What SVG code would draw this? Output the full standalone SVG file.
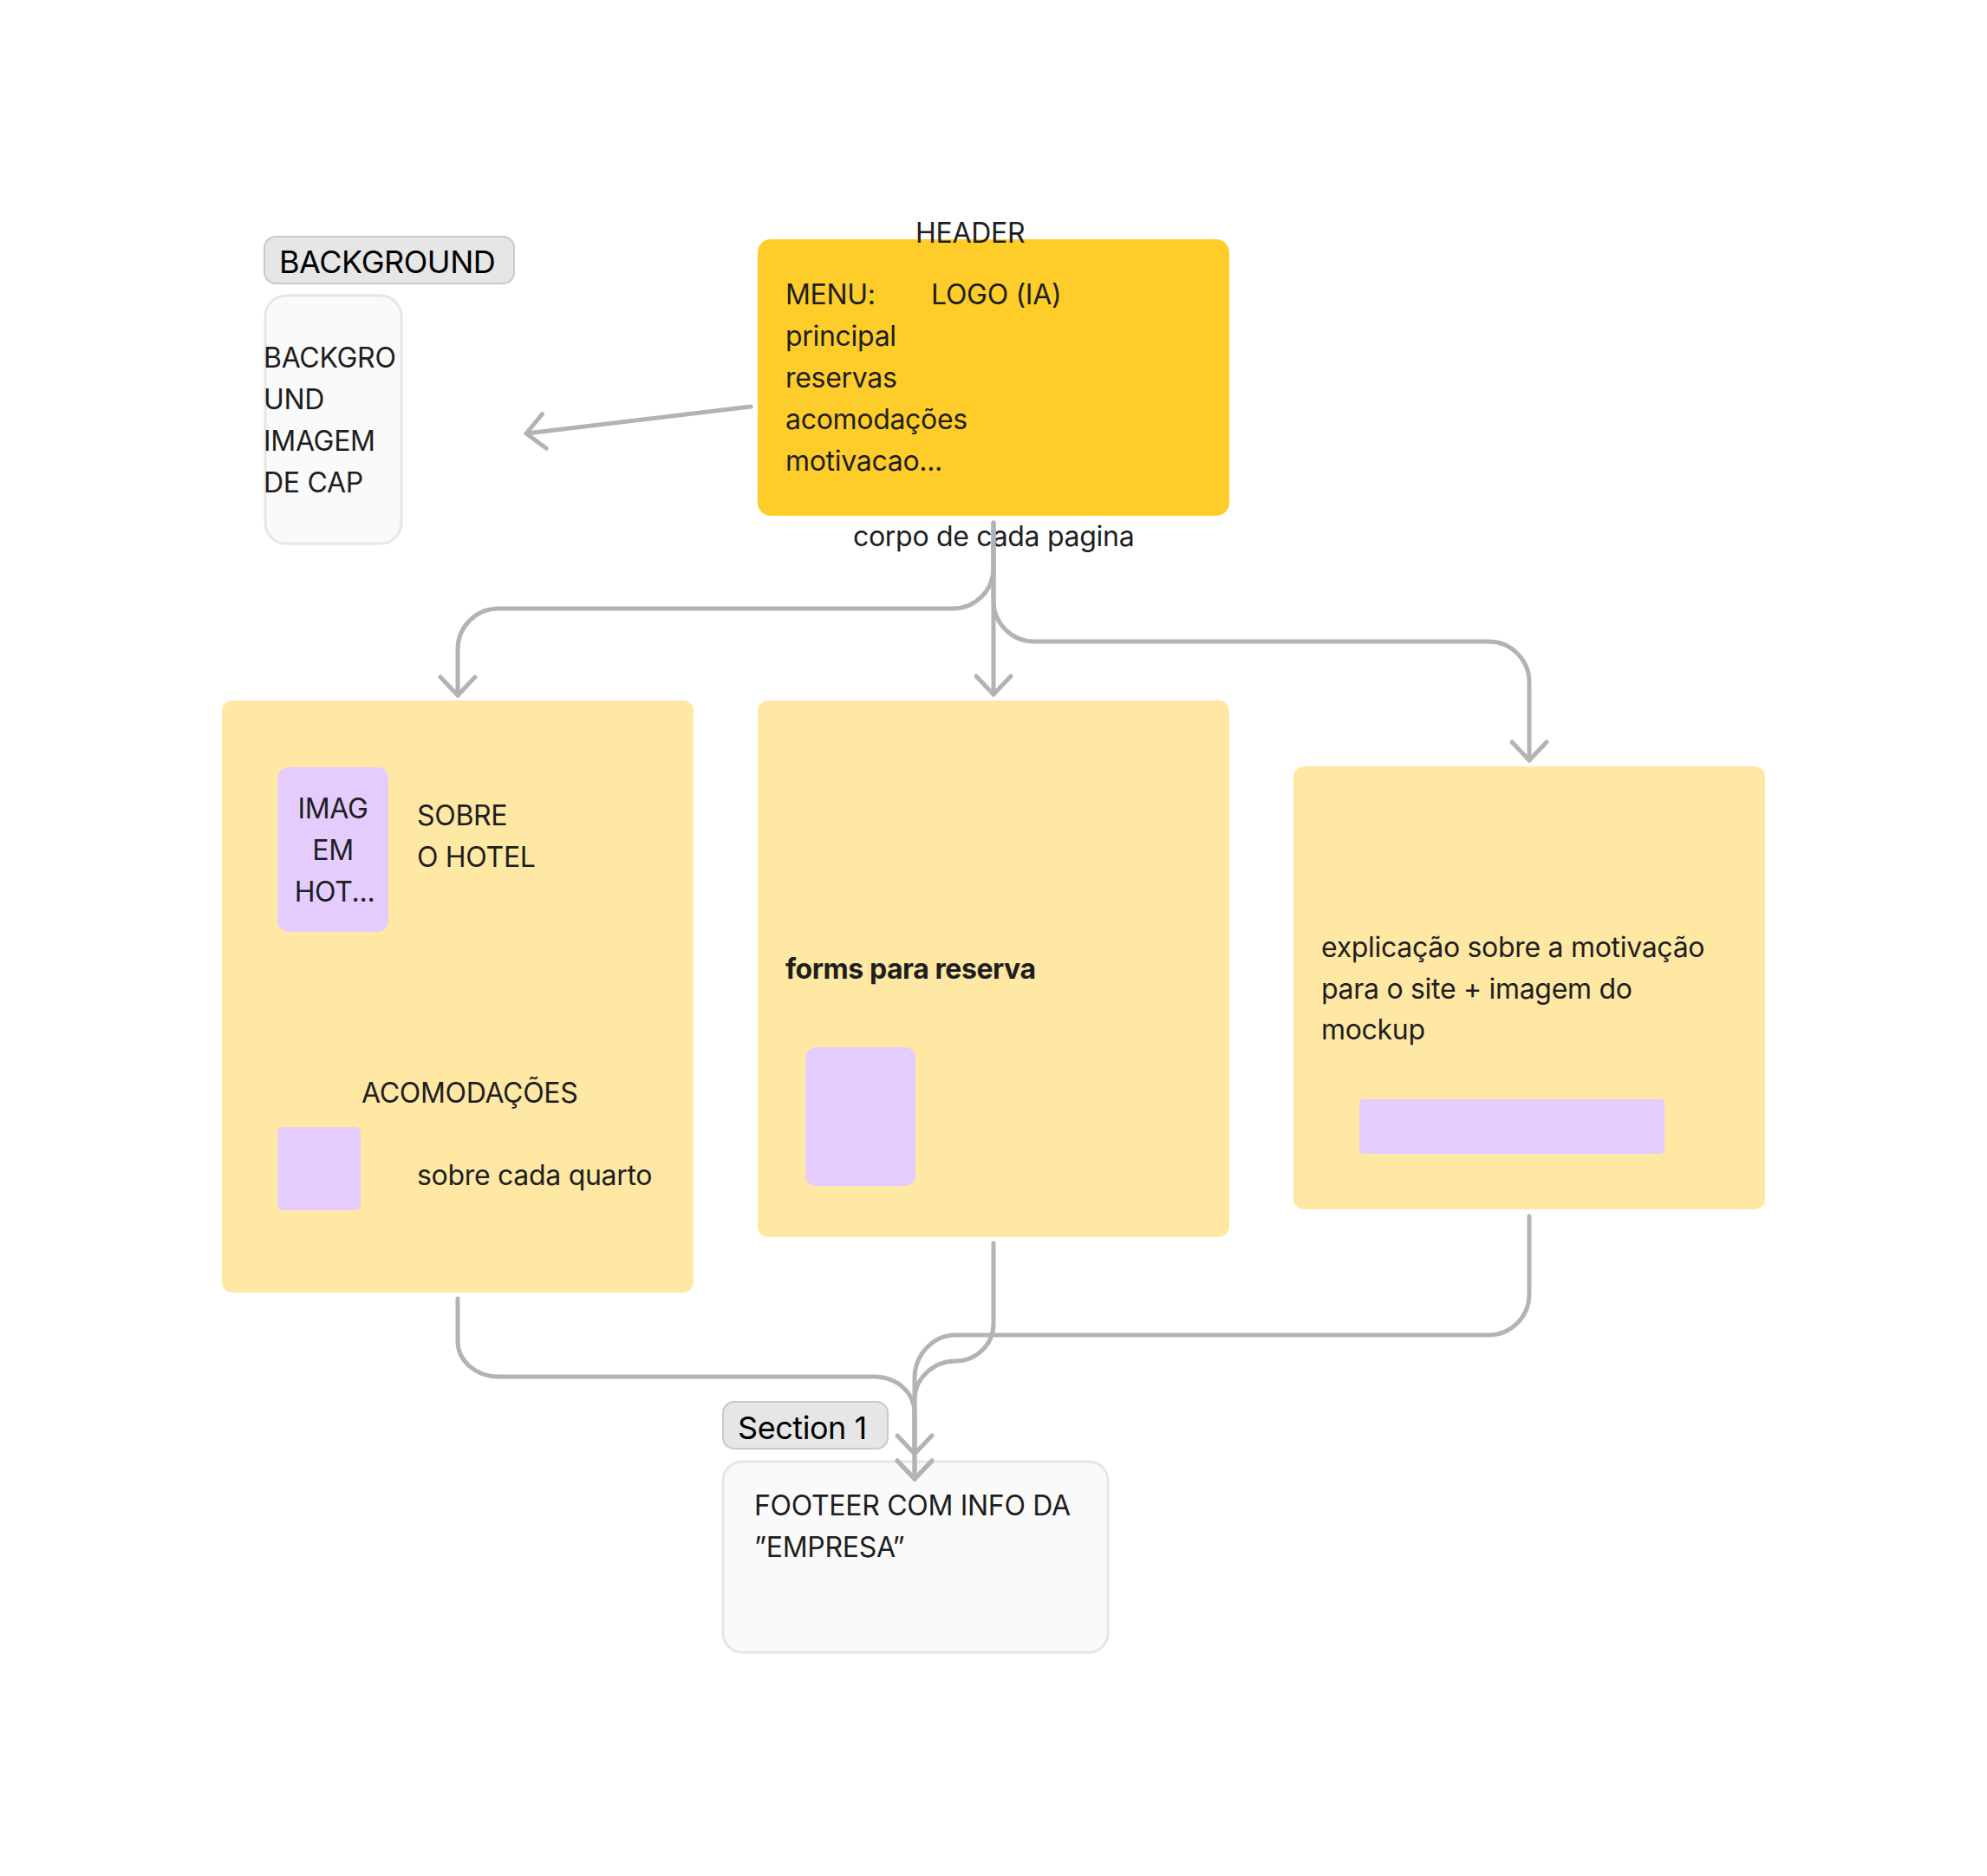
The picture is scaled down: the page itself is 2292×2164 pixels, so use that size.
<svg xmlns="http://www.w3.org/2000/svg" width="2292" height="2164" viewBox="0 0 2292 2164">
<style>
text{font-family:Inter,"Liberation Sans",sans-serif;font-size:32px;fill:#1e1e1e;letter-spacing:-0.3px}
.tag{fill:#e6e6e6;stroke:#c9c9c9;stroke-width:2}
.tagt{font-size:36px;fill:#000;letter-spacing:-0.45px}
.sec{fill:#fafafa;stroke:#e6e6e6;stroke-width:3}
.sticky{fill:#ffe8a3}
.hdr{fill:#ffcd29}
.img{fill:#e4ccff}
.con{fill:none;stroke:#b3b3b3;stroke-width:5;stroke-linecap:round;stroke-linejoin:round}
.b{font-weight:700;letter-spacing:-0.45px}
</style>
<defs>
<marker id="arr" markerUnits="userSpaceOnUse" markerWidth="60" markerHeight="60" viewBox="-30 -30 60 60" refX="0" refY="0" orient="auto" overflow="visible">
<path d="M-21,-20 L0,0 L-21,20" fill="none" stroke="#b3b3b3" stroke-width="5" stroke-linecap="round" stroke-linejoin="round"/>
</marker>
</defs>
<rect width="2292" height="2164" fill="#ffffff"/>

<g id="background-section">
<rect class="tag" x="305" y="273" width="288" height="54" rx="13"/>
<text class="tagt" x="322" y="315">BACKGROUND</text>
<rect class="sec" x="306" y="341" width="157" height="286" rx="24"/>
<text x="304" y="424">BACKGRO</text>
<text x="304" y="472">UND</text>
<text x="304" y="520">IMAGEM</text>
<text x="304" y="568">DE CAP</text>
</g>

<g id="header">
<rect class="hdr" x="874" y="276" width="544" height="319" rx="15"/>
<text x="1056" y="280">HEADER</text>
<text x="906" y="351">MENU:</text>
<text x="1074" y="351">LOGO (IA)</text>
<text x="906" y="399">principal</text>
<text x="906" y="447">reservas</text>
<text x="906" y="495">acomodações</text>
<text x="906" y="543">motivacao...</text>
</g>

<g id="corpo-label">
<text x="984" y="630">corpo de cada pagina</text>
</g>

<g id="sobre-hotel">
<rect class="sticky" x="256" y="808" width="544" height="683" rx="12"/>
<rect class="img" x="320" y="885" width="128" height="190" rx="13"/>
<text x="384" y="944" text-anchor="middle">IMAG</text>
<text x="384" y="992" text-anchor="middle">EM</text>
<text x="386" y="1040" text-anchor="middle">HOT...</text>
<text x="481" y="952">SOBRE</text>
<text x="481" y="1000">O HOTEL</text>
<text x="417" y="1272">ACOMODAÇÕES</text>
<rect class="img" x="320" y="1300" width="96" height="96" rx="6"/>
<text x="481" y="1367">sobre cada quarto</text>
</g>

<g id="forms">
<rect class="sticky" x="874" y="808" width="544" height="619" rx="12"/>
<text class="b" x="906" y="1129">forms para reserva</text>
<rect class="img" x="929" y="1208" width="127" height="160" rx="12"/>
</g>

<g id="motivacao">
<rect class="sticky" x="1492" y="884" width="544" height="511" rx="12"/>
<text x="1524" y="1104">explicação sobre a motivação</text>
<text x="1524" y="1152">para o site + imagem do</text>
<text x="1524" y="1199">mockup</text>
<rect class="img" x="1568" y="1268" width="352" height="63" rx="5"/>
</g>

<g id="footer-section">
<rect class="tag" x="834" y="1617" width="190" height="54" rx="13"/>
<text class="tagt" x="851" y="1660">Section 1</text>
<rect class="sec" x="834" y="1686" width="444" height="220" rx="22"/>
<text x="870" y="1748">FOOTEER COM INFO DA</text>
<text x="870" y="1796">”EMPRESA”</text>
</g>

<g id="connectors">
<path class="con" marker-end="url(#arr)" d="M866,469 L607,500"/>
<path class="con" marker-end="url(#arr)" d="M1146,603 L1146,655 C1146,681 1125,702 1099,702 L575,702 C549,702 528,723 528,749 L528,802"/>
<path class="con" marker-end="url(#arr)" d="M1146,603 L1146,801"/>
<path class="con" marker-end="url(#arr)" d="M1146,603 L1146,693 C1146,719 1167,740 1193,740 L1717,740 C1743,740 1764,761 1764,787 L1764,877"/>
<path class="con" marker-end="url(#arr)" d="M528,1498 L528,1547 C528,1570 549,1588 575,1588 L1008,1588 C1034,1588 1055,1606 1055,1630 L1055,1677"/>
<path class="con" marker-end="url(#arr)" d="M1146,1434 L1146,1527 C1146,1551 1126,1570 1102,1570 C1077,1570 1055,1590 1055,1614 L1055,1706"/>
<path class="con" marker-end="url(#arr)" d="M1764,1403 L1764,1493 C1764,1519 1743,1540 1717,1540 L1102,1540 C1076,1540 1055,1563 1055,1590 L1055,1706"/>
</g>
</svg>
